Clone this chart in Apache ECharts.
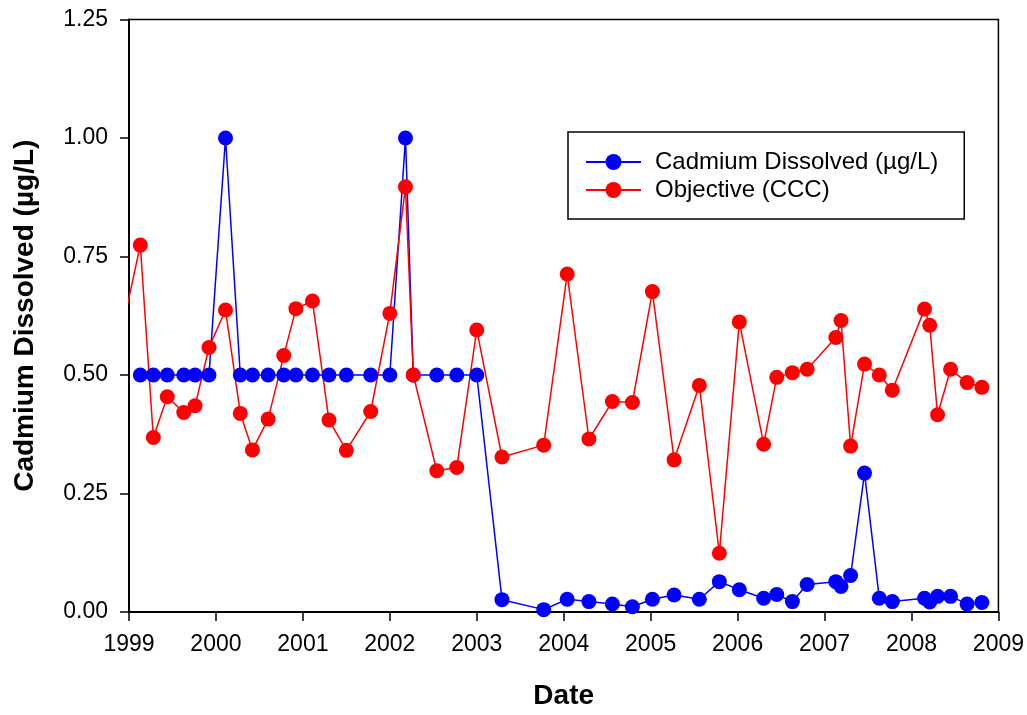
<!DOCTYPE html>
<html>
<head>
<meta charset="utf-8">
<script src="https://cdn.jsdelivr.net/npm/echarts@6/dist/echarts.min.js"></script>
<style>
html,body{margin:0;padding:0;background:#fff;}
#chart{width:1027px;height:715px;}
</style>
</head>
<body>
<div id="chart"></div>
<script>
// Sample dates (decimal years)
const dates = [1998.92, 1999.13, 1999.28, 1999.44, 1999.63, 1999.76, 1999.92,
  2000.11, 2000.28, 2000.42, 2000.60, 2000.78, 2000.92,
  2001.11, 2001.30, 2001.50, 2001.78,
  2002.00, 2002.18, 2002.27, 2002.54, 2002.77,
  2003.00, 2003.29, 2003.77,
  2004.04, 2004.29, 2004.56, 2004.79,
  2005.02, 2005.27, 2005.56, 2005.79,
  2006.02, 2006.30, 2006.45, 2006.63, 2006.80,
  2007.13, 2007.19, 2007.30, 2007.46, 2007.63, 2007.78,
  2008.15, 2008.21, 2008.30, 2008.45, 2008.64, 2008.81];

// Cadmium Dissolved (µg/L)
const cadmium = [null, 0.50, 0.50, 0.50, 0.50, 0.50, 0.50,
  1.00, 0.50, 0.50, 0.50, 0.50, 0.50,
  0.50, 0.50, 0.50, 0.50,
  0.50, 1.00, 0.50, 0.50, 0.50,
  0.50, 0.026, 0.005,
  0.027, 0.022, 0.017, 0.011,
  0.027, 0.036, 0.027, 0.064,
  0.047, 0.029, 0.037, 0.022, 0.058,
  0.064, 0.054, 0.077, 0.293, 0.029, 0.022,
  0.029, 0.021, 0.033, 0.033, 0.017, 0.020];

// Objective (CCC)
const objective = [0.595, 0.774, 0.368, 0.454, 0.421, 0.435, 0.558,
  0.637, 0.419, 0.342, 0.407, 0.541, 0.640,
  0.656, 0.405, 0.341, 0.423,
  0.630, 0.897, 0.500, 0.298, 0.305,
  0.595, 0.327, 0.352,
  0.713, 0.365, 0.444, 0.442,
  0.676, 0.321, 0.478, 0.124,
  0.612, 0.354, 0.495, 0.505, 0.512,
  0.579, 0.615, 0.350, 0.523, 0.500, 0.468,
  0.639, 0.605, 0.416, 0.512, 0.484, 0.474];

const seriesNames = ['Cadmium Dissolved (µg/L)', 'Objective (CCC)'];
const xTitle = 'Date';
const yTitle = 'Cadmium Dissolved (µg/L)';

const pairs = (vals) => dates.map((d, i) => [d, vals[i]]);

const chart = echarts.init(document.getElementById('chart'), null, {renderer: 'canvas'});
const font = 'Liberation Sans, Arial, sans-serif';
chart.setOption({
  backgroundColor: '#fff',
  animation: false,
  textStyle: {fontFamily: font},
  grid: {left: 129, right: 25, top: 19.5, bottom: 100.5, show: true, borderColor: '#000', borderWidth: 1.5, backgroundColor: 'transparent'},
  legend: {
    orient: 'vertical',
    left: 568, top: 132,
    backgroundColor: '#fff',
    borderColor: '#000', borderWidth: 1.5, borderRadius: 0,
    padding: [18, 26, 17, 17],
    itemWidth: 55, itemHeight: 20, itemGap: 4,
    textStyle: {fontSize: 24, color: '#000', fontFamily: font, padding: [0, 0, 0, 9]},
    data: seriesNames
  },
  xAxis: {
    type: 'value', min: 1999, max: 2009, interval: 1,
    name: xTitle, nameLocation: 'middle', nameGap: 70,
    nameTextStyle: {fontSize: 28, fontWeight: 'bold', color: '#000', fontFamily: font},
    axisLine: {show: true, onZero: false, lineStyle: {color: '#000', width: 2}},
    axisTick: {show: true, inside: false, length: 9, lineStyle: {color: '#000', width: 1.5}},
    axisLabel: {fontSize: 23, color: '#000', margin: 21, fontFamily: font, formatter: v => String(v)},
    splitLine: {show: false}
  },
  yAxis: {
    type: 'value', min: 0, max: 1.25, interval: 0.25,
    name: yTitle, nameLocation: 'middle', nameGap: 90,
    nameTextStyle: {fontSize: 28, fontWeight: 'bold', color: '#000', fontFamily: font},
    axisLine: {show: true, lineStyle: {color: '#000', width: 2}},
    axisTick: {show: true, inside: false, length: 9, lineStyle: {color: '#000', width: 1.5}},
    axisLabel: {fontSize: 23, color: '#000', margin: 21, fontFamily: font, formatter: v => v.toFixed(2)},
    splitLine: {show: false}
  },
  series: [
    {
      name: seriesNames[0], type: 'line', data: pairs(cadmium),
      symbol: 'circle', symbolSize: 15, clip: true,
      itemStyle: {color: '#0000ff'},
      lineStyle: {color: '#0000ff', width: 1.5}
    },
    {
      name: seriesNames[1], type: 'line', data: pairs(objective),
      symbol: 'circle', symbolSize: 15, clip: true,
      itemStyle: {color: '#ff0000'},
      lineStyle: {color: '#ff0000', width: 1.5}
    }
  ]
});
</script>
</body>
</html>
